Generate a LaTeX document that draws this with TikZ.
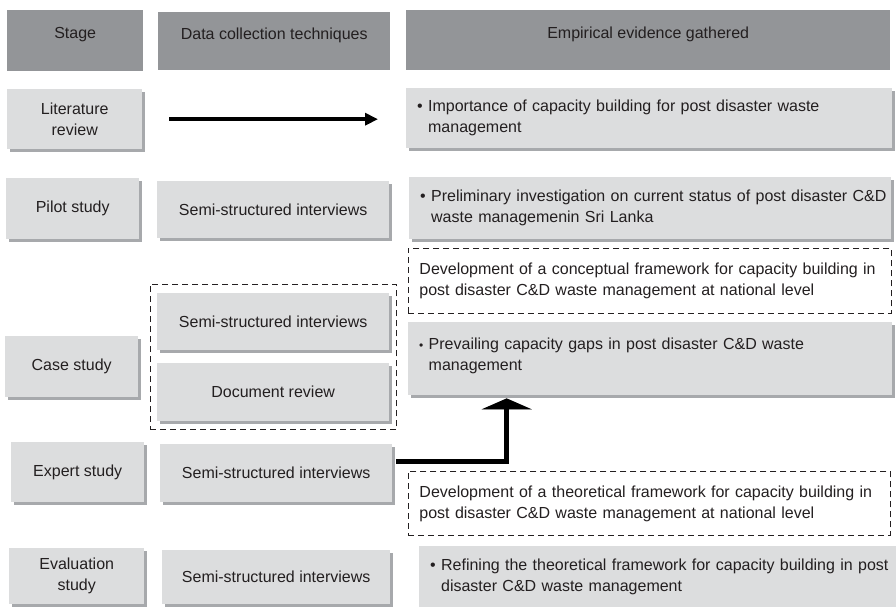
\documentclass[tikz,border=0pt]{standalone}
\usepackage{fontspec}
\setmainfont{Liberation Sans}
\usetikzlibrary{shadows,arrows.meta,fit}
\definecolor{hdr}{HTML}{939598}
\definecolor{boxfill}{HTML}{DCDDDE}
\definecolor{shd}{HTML}{A7A9AC}
\definecolor{ink}{HTML}{231F20}
\newcommand{\bulletlines}[2]{\mbox{•\ #1}\\\mbox{\hphantom{•\ }#2}}
\begin{document}
\begin{tikzpicture}[x=1pt,y=-1pt,
  font=\fontsize{16}{21}\selectfont, text=ink,
  hdrbox/.style={fill=hdr, anchor=north west, inner sep=0pt, text height=12pt, text depth=16pt, align=center},
  gbox/.style={fill=boxfill, anchor=north west, inner sep=0pt, align=center,
    drop shadow={shadow xshift=2.5pt, shadow yshift=-2.5pt, fill=shd, opacity=1}},
  evbox/.style={gbox, inner xsep=11pt, align=left},
  dbox/.style={draw=ink, dash pattern=on 6pt off 4pt, line width=0.9pt, anchor=north west, inner xsep=11pt, inner ysep=0pt, align=left},
  thinarrow/.style={line width=3.5pt, -{Triangle[length=13pt,width=12pt]}},
  elbow/.style={line width=5pt, -{Triangle[length=11pt,width=50pt]}}
]
\useasboundingbox (0,0) rectangle (896,607);

% headers
\node[hdrbox, minimum width=136pt, minimum height=61pt] (hStage) at (7,10) {Stage};
\node[hdrbox, minimum width=232pt, minimum height=58pt] (hData) at (158,12) {Data collection techniques};
\node[hdrbox, minimum width=484pt, minimum height=60pt] (hEmp) at (406,10) {Empirical evidence gathered};

% stage column
\node[gbox, minimum width=135pt, minimum height=60pt] (lit) at (7,89) {Literature\\review};
\node[gbox, minimum width=133pt, minimum height=61pt] (pilot) at (6,178) {Pilot study};
\node[gbox, minimum width=133pt, minimum height=61pt] (case) at (5,336) {Case study};
\node[gbox, minimum width=133pt, minimum height=60pt] (expert) at (11,442) {Expert study};
\node[gbox, minimum width=135pt, minimum height=56pt] (evalst) at (9,548) {Evaluation\\study};

% technique column
\node[gbox, minimum width=232pt, minimum height=57pt] (semiP) at (157,181) {Semi-structured interviews};
\node[gbox, minimum width=232pt, minimum height=57pt] (semiC) at (157,293) {Semi-structured interviews};
\node[gbox, minimum width=232pt, minimum height=58pt] (docR) at (157,363) {Document review};
\node[gbox, minimum width=232pt, minimum height=58pt] (semiE) at (160,444) {Semi-structured interviews};
\node[gbox, minimum width=228pt, minimum height=54pt] (semiV) at (162,550) {Semi-structured interviews};

\node[draw=ink, dash pattern=on 6pt off 4pt, line width=0.9pt, inner xsep=7pt, inner ysep=8.5pt, fit=(semiC)(docR)] (grp) {};

% evidence column
\node[evbox, text width=464pt, minimum height=60pt] (imp) at (406,88)
  {\bulletlines{Importance of capacity building for post disaster waste}{management}};
\node[evbox, text width=460pt, minimum height=62pt] (prel) at (409,177)
  {\bulletlines{Preliminary investigation on current status of post disaster C\&D}{waste managemenin Sri Lanka}};
\node[dbox, text width=461pt, minimum height=65pt] (concept) at (408,248)
  {\mbox{Development of a conceptual framework for capacity building in}\\\mbox{post disaster C\&D waste management at national level}};
\node[evbox, text width=462pt, minimum height=73pt, text depth=30pt] (prev) at (408,322)
  {\mbox{{\fontsize{12}{12}\selectfont•}\ Prevailing capacity gaps in post disaster C\&D waste}\\\mbox{\hphantom{{\fontsize{12}{12}\selectfont•}\ }management}};
\node[dbox, text width=460pt, minimum height=64pt] (theo) at (408,471)
  {\mbox{Development of a theoretical framework for capacity building in}\\\mbox{post disaster C\&D waste management at national level}};
\node[evbox, text width=455pt, minimum height=61pt] (refine) at (419,546)
  {\bulletlines{Refining the theoretical framework for capacity building in post}{disaster C\&D waste management}};

% connectors
\draw[thinarrow, shorten <=27pt, shorten >=28pt] (lit.east) -- (lit.east -| imp.west);

\coordinate (ebeg) at ([xshift=4pt,yshift=12pt]semiE.east);
\coordinate (etip) at ([xshift=-143.5pt,yshift=-3pt]prev.south);
\draw[elbow, draw=shd, xshift=2pt, yshift=-2pt] (ebeg) -| (etip);
\draw[elbow, draw=black] (ebeg) -| (etip);
\end{tikzpicture}
\end{document}
